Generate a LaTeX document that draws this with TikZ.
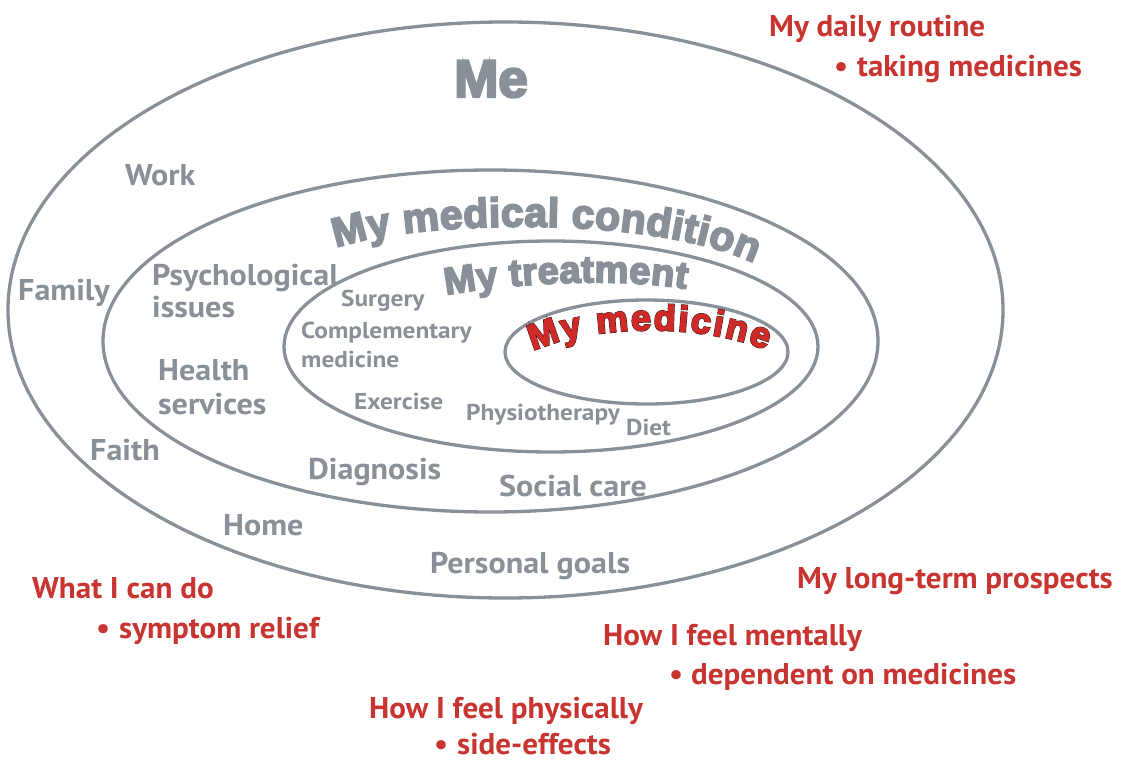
\documentclass[tikz,border=0pt]{standalone}
\usepackage{fontspec}
\setmainfont{PT Sans}[FakeStretch=1.07]
\newfontfamily\smallfont{PT Sans}[FakeStretch=1.1]
\newfontfamily\redfont{PT Sans}[FakeStretch=1.035]
\newfontfamily\heavyfont[FakeBold=4.5]{Liberation Sans Bold}
\newfontfamily\redfill[FakeBold=3]{Liberation Sans Bold}
\newfontfamily\outlinefont[FakeBold=5.5]{Liberation Sans Bold}
\usetikzlibrary{decorations.text}
\definecolor{lgray}{RGB}{138,144,151}
\definecolor{myred}{RGB}{200,52,48}
\definecolor{medred}{RGB}{206,42,40}
\definecolor{darkout}{RGB}{55,20,20}
\tikzset{
  ring/.style={draw=lgray, line width=3.3pt},
  lab/.style={font=\fontsize{30}{30}\selectfont\bfseries, text=lgray, inner sep=0pt, anchor=base west},
  slab/.style={font=\smallfont\fontsize{23}{23}\selectfont\bfseries, text=lgray, inner sep=0pt, anchor=base west},
  rlab/.style={font=\redfont\fontsize{30}{30}\selectfont\bfseries, text=myred, inner sep=0pt, anchor=base west},
}
\begin{document}
\begin{tikzpicture}[x=1pt,y=-1pt]
\useasboundingbox (0,0) rectangle (1126,760);
% rings
\draw[ring] (505.5,310) ellipse [x radius=497.5pt, y radius=288pt];
\draw[ring] (490.5,341) ellipse [x radius=387.5pt, y radius=171pt];
\draw[ring] (551,346.5) ellipse [x radius=267pt, y radius=105.5pt];
\draw[ring] (646.5,352) ellipse [x radius=141.5pt, y radius=52pt];
% Me
\node[inner sep=0pt, anchor=base, text=lgray, font=\heavyfont\fontsize{53}{53}\selectfont] (me) at (491,97) {Me};
% curved titles
\path[decorate, decoration={text along path, text align={fit to path},
  text={|\heavyfont\fontsize{41}{41}\selectfont\color{lgray}|My medical condition}}]
  (336,248) .. controls (410,221) and (648,213) .. (754,263);
\path[decorate, decoration={text along path, text align={fit to path},
  text={|\heavyfont\fontsize{38}{38}\selectfont\color{lgray}|My treatment}}]
  (446,295) .. controls (512,283) and (618,277) .. (686,289);
\path[decorate, decoration={text along path, text align={fit to path},
  text={|\outlinefont\fontsize{36}{36}\selectfont\color{darkout}|My medicine}}]
  (533,351) .. controls (590,325) and (700,322) .. (766,350);
\path[decorate, decoration={text along path, text align={fit to path},
  text={|\redfill\fontsize{36}{36}\selectfont\color{medred}|My medicine}}]
  (533,351) .. controls (590,325) and (700,322) .. (766,350);
% gray labels, outer ring
\node[lab] (work) at (125,185) {Work};
\node[lab] (family) at (18,300) {Family};
\node[lab] (faith) at (90,460) {Faith};
\node[lab] (home) at (223,535) {Home};
\node[lab] (goals) at (430,573) {Personal goals};
% middle ring
\node[lab] (psy1) at (152,285) {Psychological};
\node[lab] (psy2) at (152,317) {issues};
\node[lab] (hs1) at (158,380) {Health};
\node[lab] (hs2) at (158,414) {services};
\node[lab] (diag) at (308,479) {Diagnosis};
\node[lab] (social) at (499,496) {Social care};
% treatment ring
\node[slab] (surg) at (341,306) {Surgery};
\node[slab] (comp1) at (301,338) {Complementary};
\node[slab] (comp2) at (301,367) {medicine};
\node[slab] (exer) at (354,409) {Exercise};
\node[slab] (phys) at (466,420) {Physiotherapy};
\node[slab] (diet) at (626,435) {Diet};
% red labels
\node[rlab] (daily) at (769,37) {My daily routine};
\node[rlab] (b1) at (834,77) {•};
\node[rlab] (taking) at (857,77) {taking medicines};
\node[rlab] (long) at (797,588) {My long-term prospects};
\node[rlab] (cando) at (32,598) {What I can do};
\node[rlab] (b2) at (96,638) {•};
\node[rlab] (relief) at (119,638) {symptom relief};
\node[rlab] (ment) at (603,645) {How I feel mentally};
\node[rlab] (b3) at (669,684) {•};
\node[rlab] (dep) at (691,684) {dependent on medicines};
\node[rlab] (physic) at (369,718) {How I feel physically};
\node[rlab] (b4) at (434,754) {•};
\node[rlab] (side) at (457,754) {side-effects};
\end{tikzpicture}
\end{document}
